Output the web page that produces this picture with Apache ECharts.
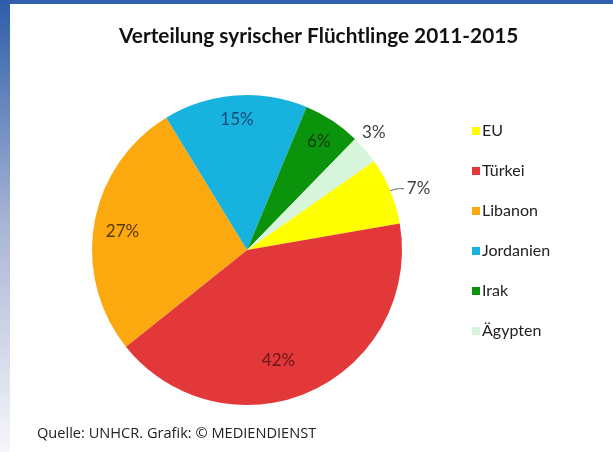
<!DOCTYPE html>
<html>
<head>
<meta charset="utf-8">
<script src="https://cdn.jsdelivr.net/npm/echarts@6/dist/echarts.min.js"></script>
<style>
  html, body { margin: 0; padding: 0; background: #fff; }
  #chart { width: 613px; height: 452px; }
</style>
</head>
<body>
<div id="chart"></div>
<script>
// Anteile in Prozent (UNHCR, 2011-2015)
const categories = ['EU', 'Türkei', 'Libanon', 'Jordanien', 'Irak', 'Ägypten']
const values = [7, 42, 27, 15, 6, 3]
const sliceColors = ['#ffff00', '#e2383a', '#fca90f', '#18b2de', '#0b930b', '#d6f5da']
const labelColors = ['#404040', '#6b1616', '#5a3800', '#164a78', '#0b3a0b', '#404040']
// kleine Stücke bekommen Beschriftung außen
const outside = ['EU', 'Ägypten']

const chart = echarts.init(document.getElementById('chart'))

const center = [247, 250]
const R = 155

chart.setOption({
  backgroundColor: '#fff',
  animation: false,
  color: sliceColors,
  title: [
    {
      text: 'Verteilung syrischer Flüchtlinge 2011-2015',
      left: 114,
      top: 21,
      textStyle: { fontFamily: 'Lato', fontWeight: 'bold', fontSize: 20.8, color: '#111' },
    },
    {
      text: 'Quelle: UNHCR. Grafik: © MEDIENDIENST',
      left: 32,
      top: 421,
      textStyle: { fontFamily: 'Open Sans', fontWeight: 'normal', fontSize: 14.6, color: '#222' },
    },
  ],
  legend: {
    orient: 'vertical',
    left: 467,
    top: 117,
    icon: 'rect',
    itemWidth: 8,
    itemHeight: 8,
    itemGap: 22,
    selectedMode: false,
    textStyle: { fontFamily: 'Lato', fontSize: 16, color: '#222', lineHeight: 18, padding: [0, 0, 0, -3] },
    data: categories,
  },
  graphic: [
    // blauer Rahmen oben und links
    { type: 'rect', shape: { x: 0, y: 0, width: 613, height: 4 }, style: { fill: '#2f5fad' }, z: 10 },
    {
      type: 'rect',
      shape: { x: 0, y: 0, width: 10, height: 452 },
      style: {
        fill: new echarts.graphic.LinearGradient(0, 0, 0, 1, [
          { offset: 0, color: '#2d5da9' },
          { offset: 0.5, color: '#a9b5d5' },
          { offset: 1, color: '#f6f7fa' },
        ]),
      },
      z: 10,
    },
  ],
  series: [
    // Hauptkreis
    {
      type: 'pie',
      radius: [0, R],
      center: center,
      startAngle: 35,
      clockwise: true,
      silent: true,
      itemStyle: { borderWidth: 0 },
      // 3% etwas höher setzen wie im Original
      labelLayout: (p) => (p.dataIndex === 5 ? { dx: -6, dy: -14 } : {}),
      data: categories.map((name, i) => {
        const isEU = name === 'EU'
        return {
          name,
          value: values[i],
          label: {
            show: outside.includes(name),
            position: 'outside',
            formatter: '{c}%',
            fontFamily: 'Lato',
            fontSize: 17,
            color: labelColors[i],
            distanceToLabelLine: isEU ? 3 : 0,
          },
          labelLine: {
            show: isEU,
            length: isEU ? 6 : 4,
            length2: isEU ? 8 : 0,
            smooth: 0.4,
            lineStyle: { color: '#555', width: 1 },
          },
        }
      }),
    },
    // unsichtbarer Ring nur für die Innenbeschriftung
    {
      type: 'pie',
      radius: [100, R],
      center: center,
      startAngle: 35,
      clockwise: true,
      silent: true,
      legendHoverLink: false,
      itemStyle: { color: 'rgba(0,0,0,0)' },
      labelLine: { show: false },
      // Excel-"Best Fit": 42% und 27% leicht verschoben
      labelLayout: (p) => {
        if (p.dataIndex === 1) return { dx: -22, dy: -9 }
        if (p.dataIndex === 2) return { dx: 4, dy: 4 }
        return {}
      },
      data: categories.map((name, i) => ({
        name,
        value: values[i],
        label: {
          show: !outside.includes(name),
          position: 'inside',
          formatter: '{c}%',
          fontFamily: 'Lato',
          fontSize: 17,
          color: labelColors[i],
        },
      })),
    },
  ],
})
</script>
</body>
</html>
